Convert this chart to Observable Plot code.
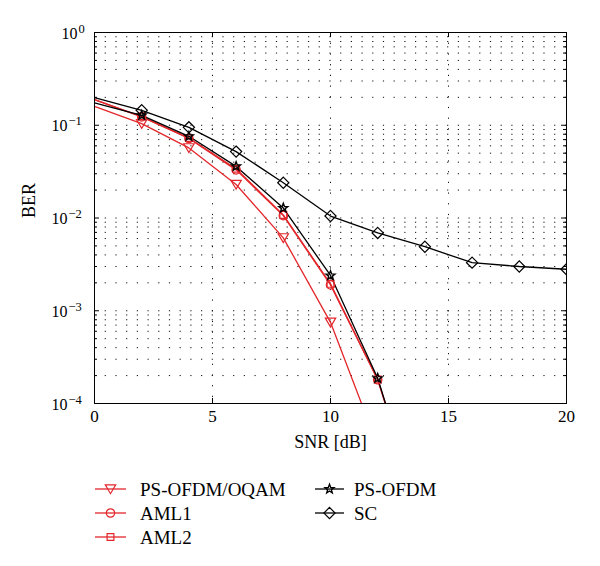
<!DOCTYPE html>
<html><head><meta charset="utf-8">
<script src="https://cdn.jsdelivr.net/npm/d3@7"></script>
<script src="https://cdn.jsdelivr.net/npm/@observablehq/plot@0.6"></script>
<style>
body{margin:0;background:#fff;font-family:"Liberation Serif","Times New Roman",serif;}
#wrap{position:relative;width:600px;height:566px;overflow:hidden;}
#legend{position:absolute;left:0;top:460px;}
</style></head><body><div id="wrap"><div id="chart"></div><svg id="legend" width="600" height="106"></svg></div>
<script>
// ---- data ----
const snr = [0, 2, 4, 6, 8, 10, 12, 14, 16, 18, 20];
const berOQAM   = [0.160, 0.104, 0.057, 0.023, 0.0061, 0.00075, 0.000035];
const berAML1   = [0.189, 0.123, 0.072, 0.033, 0.0106, 0.0019, 0.00018, 0.0000045];
const berAML2   = [0.189, 0.124, 0.073, 0.034, 0.0108, 0.00195, 0.000182, 0.0000046];
const berPSOFDM = [0.174, 0.128, 0.076, 0.036, 0.0128, 0.0024, 0.000187, 0.0000043];
const berSC     = [0.199, 0.145, 0.095, 0.052, 0.024, 0.0105, 0.0069, 0.0049, 0.0033, 0.0030, 0.0028];
const seriesNames = ["PS-OFDM/OQAM", "AML1", "AML2", "PS-OFDM", "SC"];
const xTicks = [0, 5, 10, 15, 20];
const yDecades = [-4, -3, -2, -1, 0];
const xLabel = "SNR [dB]";
const yLabel = "BER";

// ---- styling ----
const RED = "#e3262b", BLACK = "#000";
const sym = {
  tri: {draw(c, s){const r=Math.sqrt(s/Math.PI); c.moveTo(-r,-0.8*r); c.lineTo(r,-0.8*r); c.lineTo(0,0.9*r); c.closePath();}},
  circ: {draw(c, s){const r=Math.sqrt(s/Math.PI); c.moveTo(r,0); c.arc(0,0,r,0,2*Math.PI);}},
  sq: {draw(c, s){const r=Math.sqrt(s/Math.PI); c.rect(-r,-r,2*r,2*r);}},
  star: {draw(c, s){const R=Math.sqrt(s/Math.PI), ri=R*0.42; for(let i=0;i<10;i++){const a=-Math.PI/2+i*Math.PI/5, rr=i%2?ri:R; const px=rr*Math.cos(a), py=rr*Math.sin(a); i?c.lineTo(px,py):c.moveTo(px,py);} c.closePath();}},
  dia: {draw(c, s){const r=Math.sqrt(s/Math.PI); c.moveTo(0,-r); c.lineTo(r,0); c.lineTo(0,r); c.lineTo(-r,0); c.closePath();}}
};
const seriesStyle = [
  {color: RED, symbol: sym.tri, r: 5.2, sw: 1.2},
  {color: RED, symbol: sym.circ, r: 4.2, sw: 1.2},
  {color: RED, symbol: sym.sq, r: 3.4, sw: 1.2},
  {color: BLACK, symbol: sym.star, r: 4.7, sw: 1.4},
  {color: BLACK, symbol: sym.dia, r: 5.6, sw: 1.2}
];
const allBer = [berOQAM, berAML1, berAML2, berPSOFDM, berSC];
const series = seriesNames.map((name, i) => ({
  name, ...seriesStyle[i],
  rows: allBer[i].map((v, j) => ({name, x: snr[j], y: v}))
}));

const W = 600, H = 460, mL = 94, mR = 34, mT = 32, mB = 57;
const iW = W - mL - mR, iH = H - mT - mB;
const gridY = [];
for (let k = -4; k < 0; k++) for (let m = 1; m <= 9; m++) gridY.push(m * 10 ** k);
const gridYInner = gridY.filter(v => v > 1e-4 * 1.01);
const majorY = yDecades.map(d => 10 ** d);
const minorY = gridY.filter(v => !majorY.some(M => Math.abs(M - v) / M < 1e-9));
const dotted = {stroke: "#111", strokeWidth: 1, strokeDasharray: "1.2,9.5"};

const marks = [
  Plot.ruleY(gridYInner, dotted),
  Plot.ruleX(xTicks.filter(v => v > 0 && v < 20), dotted)
];
for (const s of series) {
  marks.push(Plot.line(s.rows, {x: "x", y: "y", stroke: s.color, strokeWidth: 1.3, clip: true}));
}
for (const s of series) {
  marks.push(Plot.dot(s.rows.filter(d => d.x > 0), {x: "x", y: "y", symbol: () => s.symbol, r: s.r, stroke: s.color, fill: "none", strokeWidth: s.sw, clip: true}));
}
marks.push(
  Plot.frame({stroke: "black", strokeWidth: 1}),
  Plot.tickY(majorY, {y: d => d, insetRight: iW - 5, stroke: "black"}),
  Plot.tickY(majorY, {y: d => d, insetLeft: iW - 5, stroke: "black"}),
  Plot.tickY(minorY, {y: d => d, insetRight: iW - 3, stroke: "black"}),
  Plot.tickY(minorY, {y: d => d, insetLeft: iW - 3, stroke: "black"}),
  Plot.tickX(xTicks, {x: d => d, insetTop: iH - 5, stroke: "black"}),
  Plot.tickX(xTicks, {x: d => d, insetBottom: iH - 5, stroke: "black"}),
  // x tick labels
  Plot.text(xTicks, {x: d => d, text: d => String(d), frameAnchor: "bottom", dy: 18, fontSize: 17}),
  // y tick labels: 10 with superscript exponent
  Plot.text(yDecades.filter(d => d < 0), {y: d => 10 ** d, text: () => "10", frameAnchor: "left", textAnchor: "end", dx: -27, dy: 1, fontSize: 16}),
  Plot.text(yDecades.filter(d => d < 0), {y: d => 10 ** d, text: d => "\u2212" + (-d), frameAnchor: "left", textAnchor: "start", dx: -26, dy: -4, fontSize: 12.5}),
  Plot.text(yDecades.filter(d => d === 0), {y: d => 10 ** d, text: () => "10", frameAnchor: "left", textAnchor: "end", dx: -17, dy: 1, fontSize: 16}),
  Plot.text(yDecades.filter(d => d === 0), {y: d => 10 ** d, text: d => String(d), frameAnchor: "left", textAnchor: "start", dx: -16, dy: -4, fontSize: 12.5}),
  // axis titles
  Plot.text([xLabel], {text: d => d, frameAnchor: "bottom", dy: 44, fontSize: 18}),
  Plot.text([yLabel], {text: d => d, frameAnchor: "left", dx: -65, rotate: -90, fontSize: 18})
);

const chart = Plot.plot({
  width: W, height: H, marginLeft: mL, marginRight: mR, marginTop: mT, marginBottom: mB,
  style: {fontFamily: "'Liberation Serif','Times New Roman',serif", background: "white", color: "black", overflow: "visible"},
  x: {domain: [0, 20], axis: null},
  y: {type: "log", domain: [1e-4, 1], axis: null},
  marks
});
document.getElementById("chart").appendChild(chart);

// ---- legend ----
const legendCols = [{x0: 95, x1: 126, tx: 140}, {x0: 315, x1: 344, tx: 354}];
const legendRows = [29, 53, 77];
const legendPos = [[0, 0], [0, 1], [0, 2], [1, 0], [1, 1]];
const lg = d3.select("#legend");
series.forEach((s, i) => {
  const col = legendCols[legendPos[i][0]], y = legendRows[legendPos[i][1]];
  const g = lg.append("g");
  g.append("line").attr("x1", col.x0).attr("x2", col.x1).attr("y1", y).attr("y2", y)
    .attr("stroke", s.color).attr("stroke-width", 1.3);
  g.append("path").attr("d", d3.symbol(s.symbol, s.r * s.r * Math.PI)())
    .attr("transform", `translate(${(col.x0 + col.x1) / 2},${y})`)
    .attr("fill", "none").attr("stroke", s.color).attr("stroke-width", s.sw);
  g.append("text").attr("x", col.tx).attr("y", y).attr("dy", "0.35em")
    .attr("font-family", "'Liberation Serif','Times New Roman',serif").attr("font-size", 19)
    .attr("fill", "black").text(s.name);
});
</script></body></html>
